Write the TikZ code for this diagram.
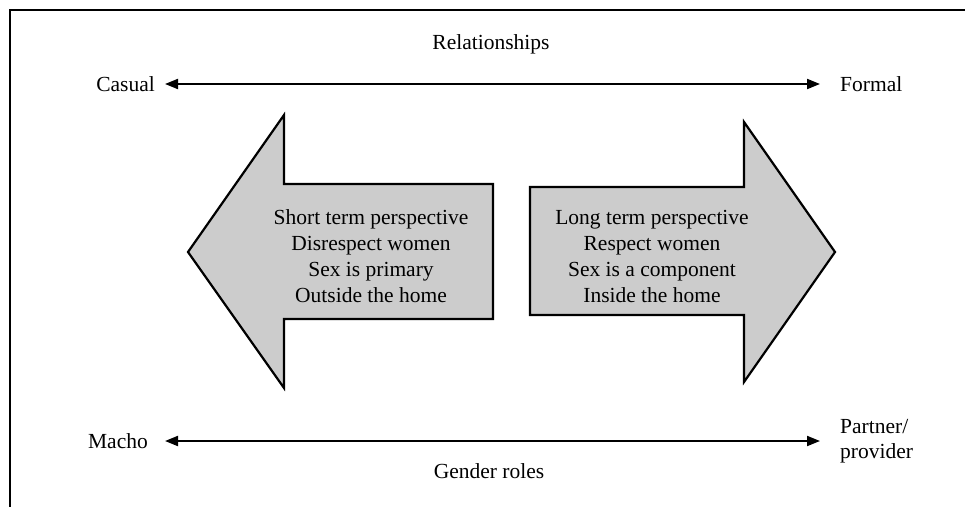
\documentclass[tikz,border=0pt]{standalone}
\usepackage{fontspec}
\setmainfont{Liberation Serif}
\usetikzlibrary{arrows.meta}
\definecolor{arrowfill}{RGB}{204,204,204}
\tikzset{
  lbl/.style={font=\fontsize{21.5}{25}\selectfont, inner sep=0pt},
  boxtext/.style={font=\fontsize{21.5}{26}\selectfont, align=center, inner sep=0pt},
  bigarrow/.style={draw=black, fill=arrowfill, line width=2.2pt, line join=miter},
  axis/.style={line width=2pt, {Triangle[length=13pt,width=10pt]}-{Triangle[length=13pt,width=10pt]}}
}
\begin{document}
\begin{tikzpicture}[x=1pt,y=-1pt]
\useasboundingbox (0,0) rectangle (965,506);
% frame
\draw[line width=2.8pt] (10,508) -- (10,10) -- (968,10);
% top labels
\node[lbl] (rel) at (491,44) {Relationships};
\node[lbl, anchor=east] (casual) at (155,84) {Casual};
\node[lbl, anchor=west] (formal) at (840,84) {Formal};
\draw[axis] ([xshift=10pt]casual.east) -- ([xshift=-20pt]formal.west);
% bottom labels
\node[lbl, anchor=east] (macho) at (148,441) {Macho};
\node[lbl, anchor=west, align=left] (partner) at (840,441) {Partner/\\provider};
\draw[axis] ([xshift=17pt]macho.east) -- ([xshift=-20pt]partner.west);
\node[lbl] (gender) at (489,471) {Gender roles};
% left big arrow
\draw[bigarrow] (188,252) -- (284,115) -- (284,184) -- (493,184) -- (493,319) -- (284,319) -- (284,388) -- cycle;
\node[boxtext] (lefttext) at (371,256) {Short term perspective\\Disrespect women\\Sex is primary\\Outside the home};
% right big arrow
\draw[bigarrow] (835,252) -- (744,122) -- (744,187) -- (530,187) -- (530,315) -- (744,315) -- (744,382) -- cycle;
\node[boxtext] (righttext) at (652,256) {Long term perspective\\Respect women\\Sex is a component\\Inside the home};
\end{tikzpicture}
\end{document}
